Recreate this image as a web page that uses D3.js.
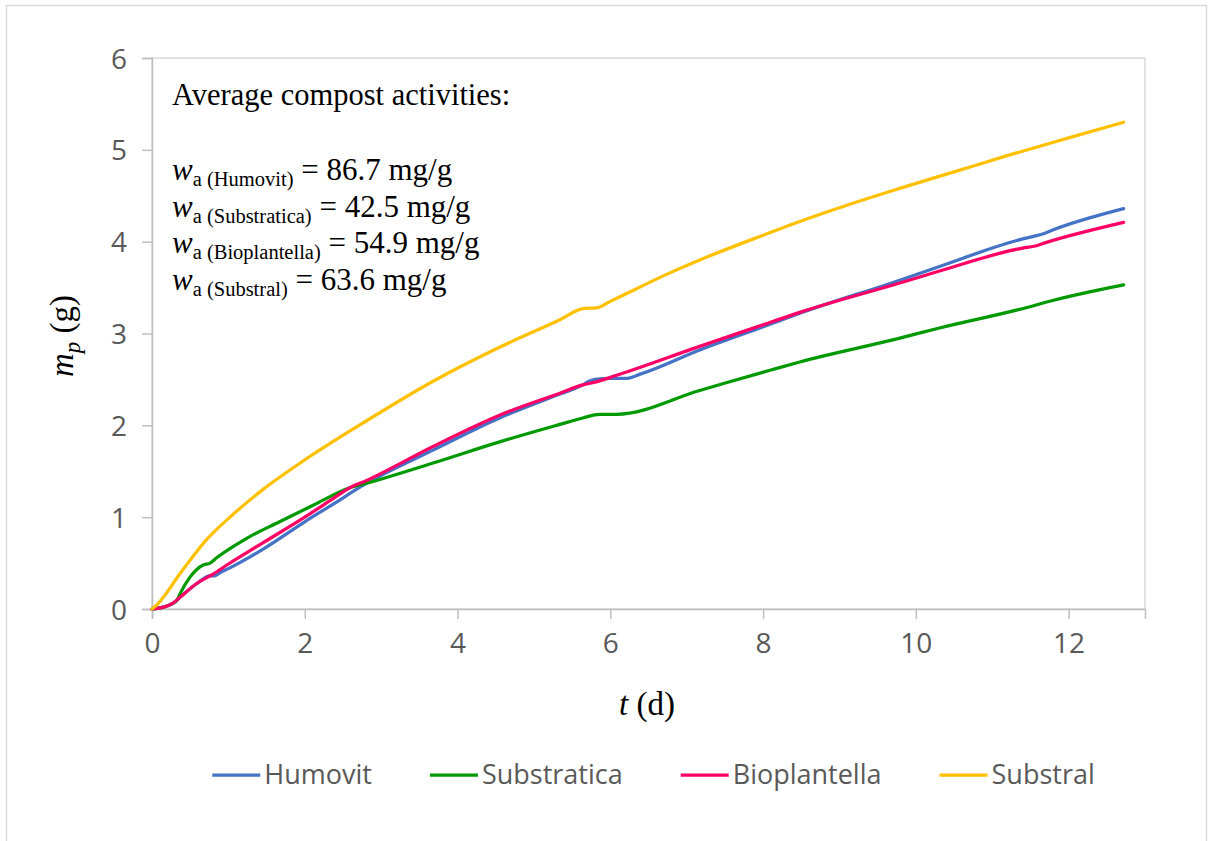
<!DOCTYPE html>
<html>
<head>
<meta charset="utf-8">
<script src="https://cdn.jsdelivr.net/npm/d3@7"></script>
<style>
  html, body { margin: 0; padding: 0; background: #fff; }
  svg { display: block; }
  .tick text { font-family: "Open Sans", sans-serif; font-size: 28px; fill: #595959; }
  .serif { font-family: "Liberation Serif", "Times New Roman", serif; fill: #000; }
</style>
</head>
<body>
<svg id="chart" width="1208" height="841"></svg>
<script>
// series names and colours
const seriesNames = ['Humovit', 'Substratica', 'Bioplantella', 'Substral'];
const seriesColors = ['#4472C4', '#009A00', '#FF0066', '#FFC000'];

// t (d) and m_p (g), one pair of arrays per series
const humovitT = [0, 0.15, 0.27, 0.37, 0.59, 0.76, 0.82, 0.9, 1.0, 1.45, 2.0, 2.33, 2.81, 3.68, 4.55, 5.34, 5.64, 5.72, 5.8, 6.0, 6.2, 6.4, 7.17, 8.09, 8.48, 9.79, 10.31, 11.4, 11.55, 11.65, 11.8, 12.72];
const humovitM = [0, 0.02, 0.06, 0.13, 0.28, 0.36, 0.36, 0.40, 0.44, 0.65, 0.95, 1.12, 1.37, 1.73, 2.08, 2.34, 2.44, 2.48, 2.50, 2.51, 2.51, 2.56, 2.82, 3.10, 3.22, 3.58, 3.73, 4.03, 4.06, 4.08, 4.13, 4.36];

const substraticaT = [0, 0.15, 0.27, 0.33, 0.37, 0.5, 0.67, 0.76, 0.85, 1.24, 1.67, 2.11, 2.59, 2.81, 3.68, 4.55, 5.34, 5.64, 5.86, 6.08, 7.17, 8.09, 8.48, 9.79, 10.31, 11.53, 11.7, 12.72];
const substraticaM = [0, 0.02, 0.06, 0.10, 0.17, 0.35, 0.48, 0.50, 0.56, 0.77, 0.95, 1.13, 1.32, 1.37, 1.59, 1.82, 2.01, 2.08, 2.12, 2.12, 2.38, 2.60, 2.69, 2.95, 3.06, 3.30, 3.34, 3.53];

const bioplantellaT = [0, 0.15, 0.27, 0.37, 0.59, 0.8, 1.0, 1.45, 2.0, 2.33, 2.59, 2.81, 3.68, 4.55, 5.34, 5.64, 5.8, 6.03, 7.17, 8.09, 8.48, 9.79, 10.31, 11.4, 11.55, 11.7, 12.72];
const bioplantellaM = [0, 0.02, 0.06, 0.13, 0.28, 0.38, 0.49, 0.72, 1.00, 1.18, 1.32, 1.40, 1.77, 2.11, 2.35, 2.44, 2.47, 2.53, 2.86, 3.12, 3.23, 3.55, 3.68, 3.93, 3.95, 3.99, 4.21];

const substralT = [0, 0.07, 0.15, 0.37, 0.59, 0.72, 0.85, 1.02, 1.45, 1.94, 2.81, 3.68, 4.55, 5.34, 5.64, 5.82, 6.0, 6.78, 7.17, 8.0, 8.48, 9.0, 9.79, 10.5, 11.25, 12.0, 12.72];
const substralM = [0, 0.05, 0.13, 0.39, 0.63, 0.76, 0.87, 1.00, 1.30, 1.59, 2.05, 2.48, 2.85, 3.15, 3.27, 3.28, 3.35, 3.66, 3.80, 4.07, 4.22, 4.37, 4.58, 4.76, 4.95, 5.13, 5.30];

const xTicks = [0, 2, 4, 6, 8, 10, 12];
const yTicks = [0, 1, 2, 3, 4, 5, 6];

const activityNames = ['Humovit', 'Substratica', 'Bioplantella', 'Substral'];
const activityValues = ['86.7', '42.5', '54.9', '63.6'];

const seriesT = [humovitT, substraticaT, bioplantellaT, substralT];
const seriesM = [humovitM, substraticaM, bioplantellaM, substralM];

const svg = d3.select('#chart');
const plot = { left: 152, right: 1145, top: 58, bottom: 609 };

// outer chart frame
svg.append('rect')
  .attr('x', 6.5).attr('y', 5.5)
  .attr('width', 1200).attr('height', 860)
  .attr('fill', '#fff')
  .attr('stroke', '#d9d9d9').attr('stroke-width', 1.5);

const x = d3.scaleLinear().domain([0, 13]).range([plot.left, plot.right]);
const y = d3.scaleLinear().domain([0, 6]).range([plot.bottom, plot.top]);

// plot area border
svg.append('rect')
  .attr('x', plot.left).attr('y', plot.top)
  .attr('width', plot.right - plot.left).attr('height', plot.bottom - plot.top)
  .attr('fill', 'none')
  .attr('stroke', '#d9d9d9').attr('stroke-width', 1.5);

const xAxis = svg.append('g')
  .attr('transform', `translate(0,${plot.bottom})`)
  .call(d3.axisBottom(x).tickValues(xTicks).tickSize(10).tickPadding(14).tickFormat(d3.format('d')));
const yAxis = svg.append('g')
  .attr('transform', `translate(${plot.left},0)`)
  .call(d3.axisLeft(y).tickValues(yTicks).tickSize(10).tickPadding(15).tickFormat(d3.format('d')));

[xAxis, yAxis].forEach(a => {
  a.select('.domain').attr('stroke', '#bfbfbf').attr('stroke-width', 1.5);
  a.selectAll('.tick line').attr('stroke', '#bfbfbf').attr('stroke-width', 1.5);
});
yAxis.selectAll('.tick text').attr('dy', '0.36em');

// series lines
const line = d3.line()
  .x(d => x(d[0]))
  .y(d => y(d[1]))
  .curve(d3.curveMonotoneX);

seriesNames.forEach((name, i) => {
  const pts = seriesT[i].map((t, j) => [t, seriesM[i][j]]);
  svg.append('path')
    .datum(pts)
    .attr('fill', 'none')
    .attr('stroke', seriesColors[i])
    .attr('stroke-width', 3.25)
    .attr('stroke-linejoin', 'round')
    .attr('stroke-linecap', 'round')
    .attr('d', line);
});

// annotation text
const note = svg.append('g').attr('class', 'serif');
note.append('text')
  .attr('x', 172).attr('y', 105)
  .attr('font-size', 30.5)
  .text('Average compost activities:');

activityNames.forEach((n, i) => {
  const t = note.append('text')
    .attr('x', 172).attr('y', 180 + i * 36.5)
    .attr('font-size', 31);
  t.append('tspan').attr('font-style', 'italic').text('w');
  t.append('tspan').attr('font-size', 20.5).attr('dy', 6).text(`a (${n})`);
  t.append('tspan').attr('dy', -6).text(` = ${activityValues[i]} mg/g`);
});

// axis titles
const xt = svg.append('text')
  .attr('class', 'serif')
  .attr('x', 647).attr('y', 715)
  .attr('text-anchor', 'middle')
  .attr('font-size', 33);
xt.append('tspan').attr('font-style', 'italic').text('t');
xt.append('tspan').text(' (d)');

const yt = svg.append('text')
  .attr('class', 'serif')
  .attr('transform', 'translate(73,336) rotate(-90)')
  .attr('text-anchor', 'middle')
  .attr('font-size', 33);
yt.append('tspan').attr('font-style', 'italic').text('m');
yt.append('tspan').attr('font-style', 'italic').attr('font-size', 23).attr('dy', 7).text('p');
yt.append('tspan').attr('dy', -7).text(' (g)');

// legend
const legend = svg.append('g');
const legY = 775, swatch = 48, swGap = 4, itemGap = 58;
const items = seriesNames.map((name, i) => {
  const g = legend.append('g');
  g.append('line')
    .attr('x1', 0).attr('x2', swatch)
    .attr('y1', 0).attr('y2', 0)
    .attr('stroke', seriesColors[i]).attr('stroke-width', 3.25);
  const txt = g.append('text')
    .attr('x', swatch + swGap).attr('y', 0).attr('dy', '0.35em')
    .attr('font-family', '"Open Sans", sans-serif')
    .attr('font-size', 27)
    .attr('fill', '#595959')
    .text(name);
  return { g, w: swatch + swGap + txt.node().getComputedTextLength() };
});
const total = d3.sum(items, d => d.w) + itemGap * (items.length - 1);
let cx = 653.5 - total / 2;
items.forEach(it => {
  it.g.attr('transform', `translate(${cx},${legY})`);
  cx += it.w + itemGap;
});
</script>
</body>
</html>
